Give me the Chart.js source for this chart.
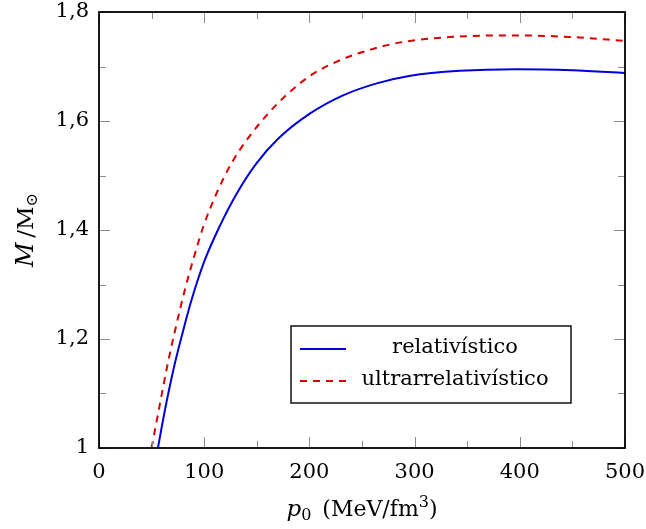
<!DOCTYPE html>
<html>
<head>
<meta charset="utf-8">
<script src="https://cdn.jsdelivr.net/npm/chart.js@4/dist/chart.umd.min.js"></script>
<style>
  html, body { margin: 0; padding: 0; background: #fff; }
  #wrap { width: 646px; height: 529px; }
</style>
</head>
<body>
<div id="wrap"><canvas id="massChart" width="646" height="529"></canvas></div>
<script>
// values: central pressure p0 (MeV/fm^3) vs mass M/Msun
var p_rel = [56, 63, 71, 79, 88, 100, 115, 131, 150, 170, 200, 232, 264, 296, 343, 397, 450, 500];
var m_rel = [1.0, 1.073, 1.146, 1.208, 1.272, 1.342, 1.408, 1.467, 1.523, 1.567, 1.613, 1.647, 1.669, 1.683, 1.692, 1.695, 1.693, 1.688];

var p_ultra = [50, 58, 65.9, 73.9, 81.7, 90.8, 99.1, 111.9, 126.1, 141.9, 161, 180, 200, 226, 258, 289, 343, 397, 450, 500];
var m_ultra = [1.0, 1.082, 1.160, 1.229, 1.291, 1.354, 1.406, 1.468, 1.523, 1.569, 1.614, 1.651, 1.682, 1.709, 1.731, 1.745, 1.755, 1.757, 1.754, 1.747];

var labels_series = ["relativístico", "ultrarrelativístico"];
var x_major = [0, 100, 200, 300, 400, 500];
var x_minor = [50, 150, 250, 350, 450];
var y_major = [1, 1.2, 1.4, 1.6, 1.8];
var y_minor = [1.1, 1.3, 1.5, 1.7];

var FONT = "'DejaVu Serif', 'Liberation Serif', serif";

function toPoints(xs, ys) {
    var out = [];
    for (var i = 0; i < xs.length; i++) {
        out.push({ x: xs[i], y: ys[i] });
    }
    return out;
}

// draw text pieces in a row: [text, font, dy]
function drawPieces(ctx, pieces, x, y, align) {
    var total = 0;
    pieces.forEach(function(p) {
        ctx.font = p[1];
        total += ctx.measureText(p[0]).width;
    });
    var cx = align == "center" ? x - total / 2 : x;
    pieces.forEach(function(p) {
        ctx.font = p[1];
        ctx.fillText(p[0], cx, y + (p[2] || 0));
        cx += ctx.measureText(p[0]).width;
    });
}

const frameAndTicks = {
    id: "frameAndTicks",
    afterDatasetsDraw(chart) {
        var ctx = chart.ctx;
        var a = chart.chartArea;
        var xs = chart.scales.x, ys = chart.scales.y;
        ctx.save();
        ctx.strokeStyle = "#8c8c8c";
        ctx.lineWidth = 1;
        function xt(v, len) {
            var px = Math.round(xs.getPixelForValue(v)) + 0.5;
            ctx.beginPath();
            ctx.moveTo(px, a.bottom); ctx.lineTo(px, a.bottom - len);
            ctx.moveTo(px, a.top); ctx.lineTo(px, a.top + len);
            ctx.stroke();
        }
        function yt(v, len) {
            var py = Math.round(ys.getPixelForValue(v)) + 0.5;
            ctx.beginPath();
            ctx.moveTo(a.left, py); ctx.lineTo(a.left + len, py);
            ctx.moveTo(a.right, py); ctx.lineTo(a.right - len, py);
            ctx.stroke();
        }
        x_major.forEach(function(v) { xt(v, 11); });
        x_minor.forEach(function(v) { xt(v, 7); });
        y_major.forEach(function(v) { yt(v, 11); });
        y_minor.forEach(function(v) { yt(v, 7); });

        // frame
        ctx.strokeStyle = "#000";
        ctx.lineWidth = 1.8;
        ctx.strokeRect(a.left, a.top, a.right - a.left, a.bottom - a.top);

        // legend box
        var lx = 291, ly = 326, lw = 280, lh = 77;
        ctx.fillStyle = "#fff";
        ctx.fillRect(lx, ly, lw, lh);
        ctx.lineWidth = 1.4;
        ctx.strokeRect(lx, ly, lw, lh);
        var rows = [349, 381];
        chart.data.datasets.forEach(function(ds, i) {
            ctx.strokeStyle = ds.borderColor;
            ctx.lineWidth = ds.borderWidth;
            ctx.setLineDash(ds.borderDash || []);
            ctx.beginPath();
            ctx.moveTo(300, rows[i]);
            ctx.lineTo(346, rows[i]);
            ctx.stroke();
            ctx.setLineDash([]);
            ctx.fillStyle = "#000";
            ctx.font = "21px " + FONT;
            ctx.textAlign = "center";
            ctx.textBaseline = "middle";
            ctx.fillText(ds.label, 455, rows[i] - 1);
        });

        // axis titles
        ctx.fillStyle = "#000";
        ctx.textAlign = "left";
        ctx.textBaseline = "alphabetic";
        var big = "22px " + FONT, it = "italic 23px " + FONT, sm = "16px " + FONT;
        drawPieces(ctx, [["p", it], ["0", sm, 4], ["\u2002(MeV/fm", big], ["3", sm, -9], [")", big]],
            (a.left + a.right) / 2, 516, "center");

        ctx.save();
        ctx.translate(33, (a.top + a.bottom) / 2);
        ctx.rotate(-Math.PI / 2);
        drawPieces(ctx, [["M", "italic 24px " + FONT], ["\u2009/M", "23px " + FONT], ["⊙", sm, 4]], 0, 0, "center");
        ctx.restore();
        ctx.restore();
    }
};

var cfg = {
    type: "line",
    data: {
        datasets: [{
            label: labels_series[0],
            data: toPoints(p_rel, m_rel),
            borderColor: "#0000d8",
            borderWidth: 2,
            pointRadius: 0,
            fill: false,
            cubicInterpolationMode: "monotone"
        }, {
            label: labels_series[1],
            data: toPoints(p_ultra, m_ultra),
            borderColor: "#d80000",
            borderWidth: 2,
            borderDash: [7, 6],
            pointRadius: 0,
            fill: false,
            cubicInterpolationMode: "monotone"
        }]
    },
    options: {
        responsive: false,
        animation: false,
        events: [],
        layout: { padding: { left: 0, right: 21, top: 12, bottom: 0 } },
        plugins: {
            legend: { display: false },
            tooltip: { enabled: false }
        },
        scales: {
            x: {
                type: "linear",
                min: 0,
                max: 500,
                grid: { display: false, drawTicks: false },
                border: { display: false },
                ticks: {
                    stepSize: 100,
                    padding: 12,
                    color: "#000",
                    font: { family: FONT, size: 21 },
                    maxRotation: 0
                },
                afterFit: function(scale) {
                    scale.height = 81;
                    scale.paddingLeft = 0;
                    scale.paddingRight = 0;
                }
            },
            y: {
                type: "linear",
                min: 1,
                max: 1.8,
                grid: { display: false, drawTicks: false },
                border: { display: false },
                ticks: {
                    stepSize: 0.2,
                    padding: 10,
                    color: "#000",
                    font: { family: FONT, size: 21 },
                    callback: function(value) {
                        var s = (Math.round(value * 10) / 10).toString();
                        return s.replace(".", ",");
                    }
                },
                afterFit: function(scale) {
                    scale.width = 99;
                    scale.paddingTop = 0;
                    scale.paddingBottom = 0;
                }
            }
        }
    },
    plugins: [frameAndTicks]
};

var massChart = new Chart(document.getElementById("massChart").getContext("2d"), cfg);
</script>
</body>
</html>
